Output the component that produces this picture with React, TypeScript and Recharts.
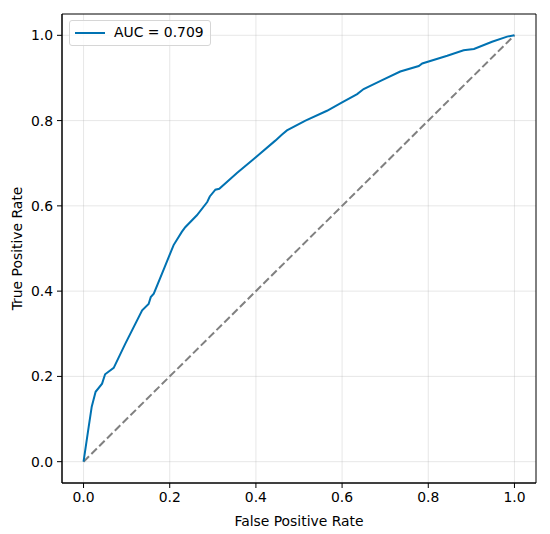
import React from 'react';
import {
  ComposedChart,
  Line,
  XAxis,
  YAxis,
  CartesianGrid,
  ReferenceArea,
} from 'recharts';

const fpr = [
  0, 0.012, 0.019, 0.028, 0.043, 0.05, 0.07, 0.097, 0.136, 0.151, 0.156, 0.163, 0.188,
  0.209, 0.228, 0.236, 0.263, 0.287, 0.293, 0.306, 0.315, 0.345, 0.356, 0.395, 0.445,
  0.46, 0.472, 0.515, 0.565, 0.6, 0.635, 0.65, 0.693, 0.735, 0.778, 0.786, 0.844, 0.882,
  0.906, 0.948, 0.983, 1,
];
const tpr = [
  0, 0.082, 0.129, 0.164, 0.183, 0.205, 0.22, 0.277, 0.355, 0.37, 0.386, 0.394, 0.456,
  0.508, 0.539, 0.55, 0.578, 0.609, 0.622, 0.638, 0.64, 0.667, 0.677, 0.71, 0.753,
  0.767, 0.777, 0.8, 0.823, 0.843, 0.862, 0.874, 0.895, 0.915, 0.928, 0.934, 0.952, 0.965,
  0.968, 0.985, 0.997, 1,
];
const chanceX = [0, 1];
const chanceY = [0, 1];
const ticks = [0, 0.2, 0.4, 0.6, 0.8, 1.0];
const aucLabel = 'AUC = 0.709';

const rocData = fpr.map((x, i) => ({ x, y: tpr[i] }));
const chanceData = chanceX.map((x, i) => ({ x, y: chanceY[i] }));

const FONT = 'DejaVu Sans, sans-serif';
const fmt = (v: number) => v.toFixed(1);

const LegendBox = () => (
  <div
    style={{
      position: 'absolute',
      left: 69,
      top: 20,
      width: 140,
      height: 24,
      background: 'rgba(255,255,255,0.8)',
      border: '1px solid #d6d6d6',
      borderRadius: 3,
      fontFamily: FONT,
      fontSize: 13.9,
      color: '#000',
    }}
  >
    <div
      style={{
        position: 'absolute',
        left: 5,
        top: 11,
        width: 30,
        height: 2,
        background: '#0072B2',
      }}
    />
    <div style={{ position: 'absolute', left: 44, top: 3, whiteSpace: 'nowrap' }}>{aucLabel}</div>
  </div>
);

export default function App() {
  return (
    <div style={{ position: 'absolute', left: 0, top: 0, width: 550, height: 534, background: '#fff' }}>
      <ComposedChart
        width={550}
        height={534}
        margin={{ top: 14, right: 14, bottom: 0, left: 0 }}
        style={{ fontFamily: FONT }}
      >
        <CartesianGrid stroke="#b0b0b0" strokeOpacity={0.3} strokeWidth={1} horizontalValues={ticks} verticalValues={ticks} />
        <XAxis
          type="number"
          dataKey="x"
          domain={[-0.05, 1.05]}
          ticks={ticks}
          tickFormatter={fmt}
          allowDataOverflow
          height={51}
          tickSize={5}
          tickMargin={4}
          axisLine={{ stroke: '#000', strokeWidth: 1 }}
          tickLine={{ stroke: '#000', strokeWidth: 1 }}
          tick={{ fill: '#000', fontSize: 13.9, fontFamily: FONT }}
          label={{ value: 'False Positive Rate', position: 'insideBottom', offset: 8, fill: '#000', fontSize: 13.9, fontFamily: FONT }}
        />
        <YAxis
          type="number"
          dataKey="y"
          domain={[-0.05, 1.05]}
          ticks={ticks}
          tickFormatter={fmt}
          allowDataOverflow
          width={62}
          tickSize={5}
          tickMargin={4}
          axisLine={{ stroke: '#000', strokeWidth: 1 }}
          tickLine={{ stroke: '#000', strokeWidth: 1 }}
          tick={{ fill: '#000', fontSize: 13.9, fontFamily: FONT }}
          label={{ value: 'True Positive Rate', angle: -90, position: 'insideLeft', offset: 17, style: { textAnchor: 'middle' }, fill: '#000', fontSize: 13.9, fontFamily: FONT }}
        />
        <ReferenceArea x1={-0.05} x2={1.05} y1={-0.05} y2={1.05} fill="none" fillOpacity={0} stroke="#000" strokeWidth={1} ifOverflow="visible" />
        <Line
          data={chanceData}
          dataKey="y"
          type="linear"
          stroke="#808080"
          strokeWidth={2}
          strokeDasharray="7.7 3.3"
          dot={false}
          activeDot={false}
          isAnimationActive={false}
          legendType="none"
        />
        <Line
          data={rocData}
          dataKey="y"
          type="linear"
          stroke="#0072B2"
          strokeWidth={2}
          dot={false}
          activeDot={false}
          isAnimationActive={false}
          name={aucLabel}
        />
      </ComposedChart>
      <LegendBox />
    </div>
  );
}
